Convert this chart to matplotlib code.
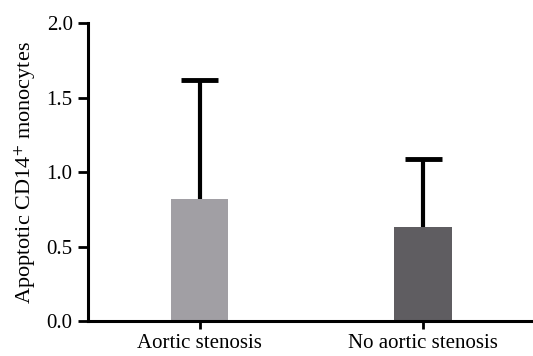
import matplotlib
matplotlib.use("Agg")
import matplotlib.pyplot as plt

groups = ["Aortic stenosis", "No aortic stenosis"]
means = [0.82, 0.63]
upper_err = [0.80, 0.46]
colors = ["#a19fa4", "#5f5d61"]

plt.rcParams['font.family'] = ['Liberation Serif', 'DejaVu Serif']
plt.rcParams['mathtext.fontset'] = 'stix'

fig = plt.figure(figsize=(5.33, 3.56), dpi=100)
ax = fig.add_axes([0.165, 0.098, 0.835, 0.837])

pos = list(range(len(groups)))
width = 0.256
cap = 0.083
ax.bar(pos, means, width=width, color=colors, zorder=2)

# upper error bars only
tops = [m + e for m, e in zip(means, upper_err)]
ax.vlines(pos, means, tops, color='black', lw=3, zorder=1)
ax.hlines(tops, [p - cap for p in pos], [p + cap for p in pos], color='black', lw=3.5, zorder=1)

ax.set_xlim(-0.502, 1.493)
ax.set_ylim(0, 2.0)
ax.set_yticks([0, 0.5, 1.0, 1.5, 2.0])
ax.set_yticklabels(["0.0", "0.5", "1.0", "1.5", "2.0"])
ax.set_xticks(pos)
ax.set_xticklabels(groups)
ax.set_ylabel(r'Apoptotic CD14$^{+}$ monocytes', fontsize=16, labelpad=6)

for s in ['top', 'right']:
    ax.spines[s].set_visible(False)
for s in ['left', 'bottom']:
    ax.spines[s].set_linewidth(2.2)
ax.tick_params(axis='y', length=7, width=2, labelsize=15, pad=4)
ax.tick_params(axis='x', length=6, width=2, labelsize=15, pad=3)

fig.savefig("out.png", dpi=100)
